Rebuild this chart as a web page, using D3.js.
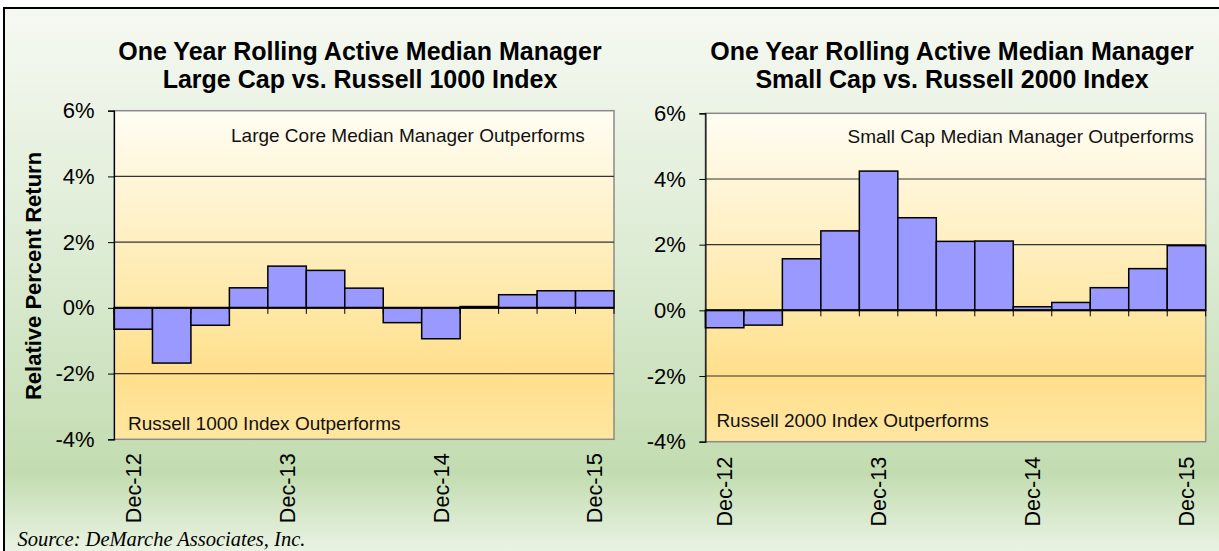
<!DOCTYPE html>
<html>
<head>
<meta charset="utf-8">
<script src="https://cdn.jsdelivr.net/npm/d3@7"></script>
<style>
  html, body { margin: 0; padding: 0; background: #ffffff; }
  svg { display: block; }
</style>
</head>
<body>
<svg id="chart" width="1219" height="551"></svg>
<script>
// ---------- data ----------
const quarters = ["Dec-12","Mar-13","Jun-13","Sep-13","Dec-13","Mar-14","Jun-14","Sep-14","Dec-14","Mar-15","Jun-15","Sep-15","Dec-15"];
const largeCapValues = [-0.65, -1.68, -0.53, 0.61, 1.27, 1.14, 0.60, -0.45, -0.94, 0.04, 0.40, 0.52, 0.52];
const smallCapValues = [-0.53, -0.45, 1.57, 2.42, 4.24, 2.82, 2.10, 2.11, 0.11, 0.24, 0.69, 1.27, 1.97];
const yTickValues = [-4, -2, 0, 2, 4, 6];
const xTickLabels = ["Dec-12", "Dec-13", "Dec-14", "Dec-15"];
const leftTitle = ["One Year Rolling Active Median Manager", "Large Cap vs. Russell 1000 Index"];
const rightTitle = ["One Year Rolling Active Median Manager", "Small Cap vs. Russell 2000 Index"];
const leftNotes = ["Large Core Median Manager Outperforms", "Russell 1000 Index Outperforms"];
const rightNotes = ["Small Cap Median Manager Outperforms", "Russell 2000 Index Outperforms"];
const yAxisTitle = "Relative Percent Return";
const sourceText = "Source: DeMarche Associates, Inc.";

// ---------- drawing ----------
const svg = d3.select("#chart");
const defs = svg.append("defs");

const bgGrad = defs.append("linearGradient").attr("id", "bgGrad")
  .attr("x1", 0).attr("y1", 0).attr("x2", 0).attr("y2", 1);
[[0, "#f6f9f2"], [0.45, "#dcebd3"], [0.83, "#c2dcb0"], [1, "#f2f8ee"]]
  .forEach(([o, c]) => bgGrad.append("stop").attr("offset", o).attr("stop-color", c));

const plotGrad = defs.append("linearGradient").attr("id", "plotGrad")
  .attr("x1", 0).attr("y1", 0).attr("x2", 0).attr("y2", 1);
[[0, "#fffdf4"], [0.2, "#fff6da"], [0.4, "#ffefc0"], [0.6, "#ffe8a6"], [0.8, "#ffdf8c"], [1, "#ffe6a0"]]
  .forEach(([o, c]) => plotGrad.append("stop").attr("offset", o).attr("stop-color", c));

// outer frame
svg.append("rect").attr("x", 4).attr("y", 8).attr("width", 1230).attr("height", 560)
  .attr("fill", "url(#bgGrad)").attr("stroke", "#000").attr("stroke-width", 2);

const SANS = "Liberation Sans, Arial, sans-serif";

function drawPanel(cfg) {
  const g = svg.append("g");
  const x = d3.scaleBand().domain(quarters).range([cfg.x0, cfg.x1]).padding(0);
  const y = d3.scaleLinear().domain([-4, 6]).range([cfg.yBottom, cfg.yTop]);

  // plot area
  g.append("rect")
    .attr("x", cfg.x0).attr("y", cfg.yTop)
    .attr("width", cfg.x1 - cfg.x0).attr("height", cfg.yBottom - cfg.yTop)
    .attr("fill", "url(#plotGrad)").attr("stroke", "#8a8a8a").attr("stroke-width", 1.5);

  // gridlines
  g.selectAll("line.grid").data(yTickValues.filter(v => v !== 0 && v !== -4 && v !== 6))
    .join("line").attr("class", "grid")
    .attr("x1", cfg.x0).attr("x2", cfg.x1)
    .attr("y1", d => y(d)).attr("y2", d => y(d))
    .attr("stroke", "#333").attr("stroke-width", 1.1);

  // annotations
  g.append("text").attr("x", cfg.topNoteX).attr("y", cfg.topNoteY)
    .attr("font-family", SANS).attr("font-size", 19)
    .attr("fill", "#111").text(cfg.notes[0]);
  g.append("text").attr("x", cfg.botNoteX).attr("y", cfg.botNoteY)
    .attr("font-family", SANS).attr("font-size", 19)
    .attr("fill", "#111").text(cfg.notes[1]);

  // bars
  g.selectAll("rect.bar").data(cfg.values.map((v, i) => ({ q: quarters[i], v })))
    .join("rect").attr("class", "bar")
    .attr("x", d => x(d.q)).attr("width", x.bandwidth())
    .attr("y", d => y(Math.max(0, d.v)))
    .attr("height", d => Math.abs(y(d.v) - y(0)))
    .attr("fill", "#9999ff").attr("stroke", "#000").attr("stroke-width", 1.5);

  // x axis (zero line) with ticks at category boundaries
  const bounds = quarters.map(q => x(q)).concat([cfg.x1]);
  g.selectAll("line.xtick").data(bounds).join("line").attr("class", "xtick")
    .attr("x1", d => d).attr("x2", d => d)
    .attr("y1", y(0)).attr("y2", y(0) + 6)
    .attr("stroke", "#000").attr("stroke-width", 1);
  g.append("line").attr("x1", cfg.x0).attr("x2", cfg.x1).attr("y1", y(0)).attr("y2", y(0))
    .attr("stroke", "#000").attr("stroke-width", 2);

  // y axis
  const yAxis = d3.axisLeft(y).tickValues(yTickValues).tickSize(6).tickPadding(13.5)
    .tickFormat(d => d + "%");
  const ya = g.append("g").attr("transform", `translate(${cfg.x0},0)`).call(yAxis);
  ya.select(".domain").attr("stroke", "#000").attr("stroke-width", 1.2);
  ya.selectAll(".tick line").attr("stroke", "#000");
  ya.selectAll(".tick text").attr("font-family", SANS)
    .attr("font-size", 22).attr("fill", "#000");

  // x labels at the December categories
  g.selectAll("text.xl").data(xTickLabels).join("text").attr("class", "xl")
    .attr("transform", d => `translate(${x(d) + x.bandwidth() / 2},${cfg.yBottom + cfg.labGap}) rotate(-90)`)
    .attr("text-anchor", "end").attr("dy", "0.35em")
    .attr("font-family", SANS).attr("font-size", 21.7)
    .attr("fill", "#000").text(d => d);

  // titles
  g.selectAll("text.title").data(cfg.title).join("text").attr("class", "title")
    .attr("x", cfg.titleX).attr("y", (d, i) => 60 + i * 27.5)
    .attr("text-anchor", "middle")
    .attr("font-family", SANS).attr("font-weight", "bold")
    .attr("font-size", 25).attr("fill", "#000").text(d => d);
}

drawPanel({
  x0: 114, x1: 614, yTop: 110.7, yBottom: 439.3,
  values: largeCapValues, title: leftTitle, titleX: 360, notes: leftNotes,
  topNoteX: 231, topNoteY: 142, botNoteX: 128, botNoteY: 430,
  labGap: 14
});
drawPanel({
  x0: 705.4, x1: 1205.7, yTop: 113.3, yBottom: 441.7,
  values: smallCapValues, title: rightTitle, titleX: 952, notes: rightNotes,
  topNoteX: 847.5, topNoteY: 143.3, botNoteX: 716.4, botNoteY: 427,
  labGap: 15
});

// y axis title
svg.append("text")
  .attr("transform", "translate(33,276) rotate(-90)")
  .attr("text-anchor", "middle").attr("dy", "0.35em")
  .attr("font-family", SANS).attr("font-weight", "bold")
  .attr("font-size", 22).attr("fill", "#000").text(yAxisTitle);

// source
svg.append("text").attr("x", 17.5).attr("y", 546)
  .attr("font-family", "Liberation Serif, Times New Roman, serif").attr("font-style", "italic")
  .attr("font-size", 20.5).attr("fill", "#000").text(sourceText);
</script>
</body>
</html>
